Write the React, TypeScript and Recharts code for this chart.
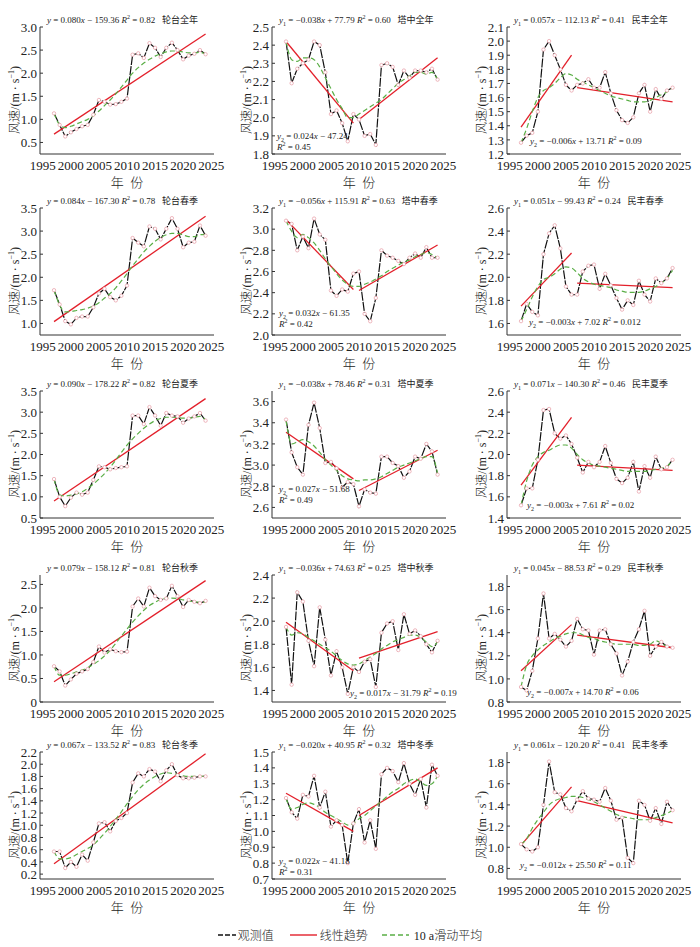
import React from 'react';
import { LineChart, Line, XAxis, YAxis } from 'recharts';

// ---------- data ----------
const years = [1997, 1998, 1999, 2000, 2001, 2002, 2003, 2004, 2005, 2006, 2007, 2008, 2009, 2010,
  2011, 2012, 2013, 2014, 2015, 2016, 2017, 2018, 2019, 2020, 2021, 2022, 2023, 2024];
const xTicks = [1995, 2000, 2005, 2010, 2015, 2020, 2025];

const luntaiTrendYears = [[1997, 2024]];
const tazhongTrendYears = [[1997, 2009], [2010, 2024]];
const minfengTrendYears = [[1997, 2006], [2007, 2024]];

// 轮台全年
const ltAnnualObs = [1.13, 0.88, 0.63, 0.72, 0.79, 0.85, 0.88, 1.1, 1.42, 1.38, 1.32, 1.33, 1.38, 1.45, 2.4, 2.43, 2.33, 2.65, 2.55, 2.35, 2.55, 2.66, 2.5, 2.3, 2.38, 2.42, 2.5, 2.41];
const ltAnnualMA = [1.13, 0.88, 0.82, 0.85, 0.9, 0.95, 1.0, 1.08, 1.18, 1.3, 1.42, 1.55, 1.7, 1.85, 2.0, 2.12, 2.22, 2.3, 2.37, 2.42, 2.46, 2.48, 2.48, 2.46, 2.44, 2.44, 2.45, 2.42];
const ltAnnualTrend = [0.68, 2.85];
// 塔中全年
const tzAnnualObs = [2.42, 2.19, 2.27, 2.3, 2.32, 2.42, 2.4, 2.25, 2.02, 2.04, 1.97, 1.87, 2.02, 1.99, 1.9, 1.91, 1.85, 2.29, 2.3, 2.28, 2.18, 2.26, 2.22, 2.26, 2.26, 2.25, 2.27, 2.21];
const tzAnnualMA = [2.42, 2.32, 2.31, 2.33, 2.33, 2.32, 2.28, 2.22, 2.16, 2.1, 2.05, 2.0, 2.0, 2.02, 2.04, 2.06, 2.08, 2.1, 2.13, 2.16, 2.19, 2.21, 2.23, 2.25, 2.25, 2.24, 2.25, 2.21];
const tzAnnualTrend = [2.42, 1.97, 1.99, 2.33];
// 民丰全年
const mfAnnualObs = [1.28, 1.33, 1.35, 1.5, 1.94, 2.0, 1.9, 1.8, 1.69, 1.65, 1.69, 1.7, 1.73, 1.67, 1.67, 1.78, 1.63, 1.51, 1.44, 1.42, 1.46, 1.63, 1.69, 1.5, 1.66, 1.59, 1.65, 1.67];
const mfAnnualMA = [1.28, 1.38, 1.5, 1.6, 1.65, 1.67, 1.7, 1.74, 1.77, 1.76, 1.73, 1.71, 1.69, 1.67, 1.65, 1.63, 1.61, 1.6, 1.59, 1.58, 1.57, 1.57, 1.57, 1.58, 1.6, 1.62, 1.64, 1.67];
const mfAnnualTrend = [1.39, 1.9, 1.67, 1.57];

// 轮台春季
const ltSpringObs = [1.72, 1.41, 1.05, 0.98, 1.12, 1.15, 1.15, 1.35, 1.65, 1.75, 1.57, 1.5, 1.6, 1.82, 2.85, 2.75, 2.67, 3.1, 3.05, 2.82, 3.05, 3.28, 3.05, 2.65, 2.75, 2.77, 3.12, 2.9];
const ltSpringMA = [1.72, 1.4, 1.25, 1.26, 1.28, 1.3, 1.33, 1.38, 1.45, 1.55, 1.65, 1.77, 1.92, 2.08, 2.25, 2.4, 2.55, 2.67, 2.78, 2.86, 2.92, 2.95, 2.95, 2.92, 2.88, 2.88, 2.92, 2.93];
const ltSpringTrend = [1.04, 3.32];
// 塔中春季
const tzSpringObs = [3.08, 3.05, 2.8, 2.93, 2.82, 3.1, 2.95, 2.9, 2.42, 2.37, 2.43, 2.41, 2.58, 2.6, 2.2, 2.13, 2.35, 2.8, 2.75, 2.73, 2.7, 2.67, 2.73, 2.77, 2.73, 2.83, 2.73, 2.73];
const tzSpringMA = [3.08, 2.98, 2.92, 2.95, 2.92, 2.87, 2.8, 2.72, 2.65, 2.58, 2.52, 2.48, 2.46, 2.46, 2.48, 2.5, 2.53, 2.56, 2.6, 2.63, 2.66, 2.69, 2.71, 2.74, 2.76, 2.78, 2.76, 2.73];
const tzSpringTrend = [3.09, 2.43, 2.42, 2.85];
// 民丰春季
const mfSpringObs = [1.62, 1.77, 1.7, 1.67, 2.2, 2.38, 2.45, 2.25, 1.92, 1.85, 1.85, 2.05, 2.1, 2.11, 1.9, 2.03, 1.93, 1.82, 1.72, 1.8, 1.76, 1.97, 1.85, 1.79, 1.99, 1.95, 1.99, 2.08];
const mfSpringMA = [1.62, 1.72, 1.83, 1.92, 1.98, 2.0, 2.03, 2.07, 2.09, 2.08, 2.04, 1.99, 1.96, 1.94, 1.93, 1.92, 1.91, 1.89, 1.88, 1.87, 1.87, 1.87, 1.88, 1.9, 1.92, 1.95, 1.99, 2.06];
const mfSpringTrend = [1.75, 2.21, 1.95, 1.91];

// 轮台夏季
const ltSummerObs = [1.42, 1.0, 0.78, 0.98, 1.1, 1.05, 1.1, 1.4, 1.72, 1.7, 1.65, 1.68, 1.7, 1.72, 2.92, 2.92, 2.72, 3.12, 2.92, 2.68, 2.98, 2.92, 2.9, 2.75, 2.85, 2.9, 2.98, 2.8];
const ltSummerMA = [1.42, 1.05, 1.02, 1.04, 1.07, 1.12, 1.2, 1.3, 1.42, 1.55, 1.7, 1.87, 2.05, 2.22, 2.37, 2.5, 2.62, 2.72, 2.8, 2.85, 2.88, 2.88, 2.87, 2.86, 2.86, 2.88, 2.9, 2.82];
const ltSummerTrend = [0.9, 3.32];
// 塔中夏季
const tzSummerObs = [3.43, 3.12, 2.98, 2.91, 3.38, 3.59, 3.35, 3.02, 3.03, 2.97, 2.79, 2.84, 2.82, 2.61, 2.77, 2.74, 2.73, 3.08, 3.08, 3.02, 2.99, 2.88, 2.94, 3.08, 3.06, 3.2, 3.13, 2.91];
const tzSummerMA = [3.42, 3.2, 3.22, 3.24, 3.22, 3.18, 3.12, 3.05, 3.0, 2.95, 2.9, 2.87, 2.86, 2.85, 2.86, 2.86, 2.87, 2.89, 2.92, 2.95, 2.98, 3.0, 3.02, 3.04, 3.06, 3.08, 3.08, 2.92];
const tzSummerTrend = [3.31, 2.87, 2.76, 3.14];
// 民丰夏季
const mfSummerObs = [1.52, 1.68, 1.68, 1.95, 2.42, 2.43, 2.2, 2.15, 2.18, 2.1, 1.97, 1.83, 1.93, 1.88, 1.93, 2.08, 1.92, 1.77, 1.73, 1.78, 1.93, 1.65, 1.89, 1.78, 1.98, 1.86, 1.88, 1.95];
const mfSummerMA = [1.52, 1.75, 1.9, 1.98, 2.02, 2.04, 2.07, 2.09, 2.09, 2.06, 2.0, 1.95, 1.92, 1.9, 1.89, 1.88, 1.87, 1.86, 1.85, 1.84, 1.84, 1.84, 1.84, 1.85, 1.86, 1.87, 1.89, 1.94];
const mfSummerTrend = [1.71, 2.35, 1.9, 1.85];

// 轮台秋季
const ltAutumnObs = [0.76, 0.65, 0.35, 0.48, 0.6, 0.65, 0.7, 0.85, 1.18, 1.05, 1.12, 1.08, 1.06, 1.07, 2.03, 2.2, 2.03, 2.43, 2.25, 2.17, 2.2, 2.47, 2.25, 2.02, 2.17, 2.13, 2.1, 2.15];
const ltAutumnMA = [0.76, 0.57, 0.57, 0.6, 0.64, 0.68, 0.73, 0.8, 0.88, 0.98, 1.1, 1.25, 1.4, 1.55, 1.7, 1.83, 1.95, 2.05, 2.12, 2.18, 2.21, 2.21, 2.2, 2.17, 2.15, 2.13, 2.12, 2.13];
const ltAutumnTrend = [0.43, 2.58];
// 塔中秋季
const tzAutumnObs = [1.95, 1.45, 2.25, 2.17, 1.83, 1.61, 2.12, 1.84, 1.53, 1.74, 1.6, 1.37, 1.6, 1.56, 1.65, 1.67, 1.43, 1.9, 1.98, 2.0, 1.75, 2.06, 1.89, 1.92, 1.87, 1.8, 1.73, 1.83];
const tzAutumnMA = [1.95, 1.88, 1.9, 1.89, 1.86, 1.83, 1.8, 1.77, 1.74, 1.7, 1.66, 1.63, 1.62, 1.63, 1.66, 1.69, 1.72, 1.76, 1.79, 1.82, 1.84, 1.86, 1.88, 1.88, 1.86, 1.82, 1.78, 1.82];
const tzAutumnTrend = [1.99, 1.57, 1.68, 1.91];
// 民丰秋季
const mfAutumnObs = [0.93, 0.9, 1.07, 1.35, 1.74, 1.35, 1.39, 1.34, 1.28, 1.33, 1.52, 1.43, 1.42, 1.21, 1.42, 1.43, 1.3, 1.22, 1.03, 1.15, 1.32, 1.43, 1.59, 1.2, 1.28, 1.32, 1.28, 1.27];
const mfAutumnMA = [0.93, 1.12, 1.2, 1.25, 1.29, 1.32, 1.35, 1.37, 1.39, 1.4, 1.4, 1.38, 1.36, 1.35, 1.33, 1.32, 1.31, 1.3, 1.3, 1.3, 1.3, 1.29, 1.29, 1.3, 1.33, 1.31, 1.28, 1.27];
const mfAutumnTrend = [1.07, 1.47, 1.38, 1.27];

// 轮台冬季
const ltWinterObs = [0.57, 0.57, 0.3, 0.4, 0.32, 0.52, 0.42, 0.72, 1.03, 1.05, 0.9, 1.07, 1.12, 1.2, 1.7, 1.85, 1.8, 1.92, 1.88, 1.72, 1.9, 2.0, 1.82, 1.77, 1.77, 1.78, 1.8, 1.8];
const ltWinterMA = [0.57, 0.45, 0.45, 0.47, 0.52, 0.57, 0.62, 0.68, 0.77, 0.87, 0.98, 1.1, 1.22, 1.35, 1.47, 1.58, 1.67, 1.74, 1.8, 1.84, 1.86, 1.85, 1.83, 1.81, 1.8, 1.8, 1.8, 1.81];
const ltWinterTrend = [0.37, 2.17];
// 塔中冬季
const tzWinterObs = [1.21, 1.12, 1.08, 1.23, 1.22, 1.35, 1.15, 1.25, 1.03, 1.07, 1.04, 0.8, 1.05, 1.14, 0.93, 1.07, 0.89, 1.36, 1.4, 1.38, 1.31, 1.43, 1.3, 1.23, 1.33, 1.15, 1.42, 1.35];
const tzWinterMA = [1.21, 1.14, 1.15, 1.17, 1.18, 1.17, 1.15, 1.12, 1.1, 1.08, 1.06, 1.04, 1.05, 1.08, 1.1, 1.13, 1.16, 1.19, 1.22, 1.25, 1.27, 1.3, 1.32, 1.33, 1.31, 1.29, 1.3, 1.35];
const tzWinterTrend = [1.24, 1.0, 1.1, 1.4];
// 民丰冬季
const mfWinterObs = [1.03, 0.98, 0.96, 1.0, 1.4, 1.81, 1.52, 1.5, 1.37, 1.34, 1.45, 1.53, 1.46, 1.45, 1.43, 1.56, 1.44, 1.26, 1.28, 0.9, 0.85, 1.44, 1.4, 1.25, 1.37, 1.22, 1.43, 1.35];
const mfWinterMA = [1.03, 1.08, 1.18, 1.26, 1.33, 1.4, 1.44, 1.46, 1.47, 1.48, 1.48, 1.47, 1.45, 1.43, 1.4, 1.37, 1.34, 1.31, 1.29, 1.28, 1.27, 1.26, 1.26, 1.26, 1.28, 1.3, 1.32, 1.35];
const mfWinterTrend = [1.02, 1.57, 1.44, 1.23];

// y-axis tick lists
const ltAnnualTicks = [0.5, 1.0, 1.5, 2.0, 2.5, 3.0];
const tzAnnualTicks = [1.8, 1.9, 2.0, 2.1, 2.2, 2.3, 2.4, 2.5];
const mfAnnualTicks = [1.2, 1.3, 1.4, 1.5, 1.6, 1.7, 1.8, 1.9, 2.0, 2.1];
const ltSpringTicks = [1.0, 1.5, 2.0, 2.5, 3.0, 3.5];
const tzSpringTicks = [2.0, 2.2, 2.4, 2.6, 2.8, 3.0, 3.2];
const mfSpringTicks = [1.6, 1.8, 2.0, 2.2, 2.4, 2.6];
const ltSummerTicks = [0.5, 1.0, 1.5, 2.0, 2.5, 3.0, 3.5];
const tzSummerTicks = [2.6, 2.8, 3.0, 3.2, 3.4, 3.6];
const mfSummerTicks = [1.4, 1.6, 1.8, 2.0, 2.2, 2.4, 2.6];
const ltAutumnTicks = [0, 0.5, 1.0, 1.5, 2.0, 2.5];
const tzAutumnTicks = [1.4, 1.6, 1.8, 2.0, 2.2, 2.4];
const mfAutumnTicks = [0.8, 1.0, 1.2, 1.4, 1.6, 1.8];
const ltWinterTicks = [0.2, 0.4, 0.6, 0.8, 1.0, 1.2, 1.4, 1.6, 1.8, 2.0, 2.2];
const tzWinterTicks = [0.7, 0.8, 0.9, 1.0, 1.1, 1.2, 1.3, 1.4, 1.5];
const mfWinterTicks = [0.8, 1.0, 1.2, 1.4, 1.6, 1.8];

// ---------- layout / config ----------
const colLeft = [0, 232, 467];
const rowTop = [6, 187, 370, 554, 731];
const CW = 233;
const CH = 185;
const PLOT_TOP = 21;
const PLOT_H = 127;

type Eq = { sub: string; body: string; r2: string; name?: string };
type Note = { sub: string; body: string; r2: string; x: number; yf: number; split: boolean };

const panels: {
  obs: number[]; ma: number[]; trend: number[]; segYears: number[][]; domain: [number, number];
  ticks: number[]; eq: Eq; note?: Note;
}[] = [
  { obs: ltAnnualObs, ma: ltAnnualMA, trend: ltAnnualTrend, segYears: luntaiTrendYears, domain: [0.25, 3.0], ticks: ltAnnualTicks,
    eq: { sub: '', body: '0.080x − 159.36', r2: '0.82', name: '轮台全年' } },
  { obs: tzAnnualObs, ma: tzAnnualMA, trend: tzAnnualTrend, segYears: tazhongTrendYears, domain: [1.8, 2.5], ticks: tzAnnualTicks,
    eq: { sub: '1', body: '−0.038x + 77.79', r2: '0.60', name: '塔中全年' },
    note: { sub: '2', body: '0.024x − 47.24', r2: '0.45', x: 45, yf: 0.86, split: true } },
  { obs: mfAnnualObs, ma: mfAnnualMA, trend: mfAnnualTrend, segYears: minfengTrendYears, domain: [1.2, 2.1], ticks: mfAnnualTicks,
    eq: { sub: '1', body: '0.057x − 112.13', r2: '0.41', name: '民丰全年' },
    note: { sub: '2', body: '−0.006x + 13.71', r2: '0.09', x: 63, yf: 0.9, split: false } },

  { obs: ltSpringObs, ma: ltSpringMA, trend: ltSpringTrend, segYears: luntaiTrendYears, domain: [0.75, 3.5], ticks: ltSpringTicks,
    eq: { sub: '', body: '0.084x − 167.30', r2: '0.78', name: '轮台春季' } },
  { obs: tzSpringObs, ma: tzSpringMA, trend: tzSpringTrend, segYears: tazhongTrendYears, domain: [2.0, 3.2], ticks: tzSpringTicks,
    eq: { sub: '1', body: '−0.056x + 115.91', r2: '0.63', name: '塔中春季' },
    note: { sub: '2', body: '0.032x − 61.35', r2: '0.42', x: 47, yf: 0.83, split: true } },
  { obs: mfSpringObs, ma: mfSpringMA, trend: mfSpringTrend, segYears: minfengTrendYears, domain: [1.5, 2.6], ticks: mfSpringTicks,
    eq: { sub: '1', body: '0.051x − 99.43', r2: '0.24', name: '民丰春季' },
    note: { sub: '2', body: '−0.003x + 7.02', r2: '0.012', x: 62, yf: 0.9, split: false } },

  { obs: ltSummerObs, ma: ltSummerMA, trend: ltSummerTrend, segYears: luntaiTrendYears, domain: [0.5, 3.5], ticks: ltSummerTicks,
    eq: { sub: '', body: '0.090x − 178.22', r2: '0.82', name: '轮台夏季' } },
  { obs: tzSummerObs, ma: tzSummerMA, trend: tzSummerTrend, segYears: tazhongTrendYears, domain: [2.5, 3.7], ticks: tzSummerTicks,
    eq: { sub: '1', body: '−0.038x + 78.46', r2: '0.31', name: '塔中夏季' },
    note: { sub: '2', body: '0.027x − 51.68', r2: '0.49', x: 47, yf: 0.77, split: true } },
  { obs: mfSummerObs, ma: mfSummerMA, trend: mfSummerTrend, segYears: minfengTrendYears, domain: [1.4, 2.6], ticks: mfSummerTicks,
    eq: { sub: '1', body: '0.071x − 140.30', r2: '0.46', name: '民丰夏季' },
    note: { sub: '2', body: '−0.003x + 7.61', r2: '0.02', x: 60, yf: 0.9, split: false } },

  { obs: ltAutumnObs, ma: ltAutumnMA, trend: ltAutumnTrend, segYears: luntaiTrendYears, domain: [0, 2.7], ticks: ltAutumnTicks,
    eq: { sub: '', body: '0.079x − 158.12', r2: '0.81', name: '轮台秋季' } },
  { obs: tzAutumnObs, ma: tzAutumnMA, trend: tzAutumnTrend, segYears: tazhongTrendYears, domain: [1.3, 2.4], ticks: tzAutumnTicks,
    eq: { sub: '1', body: '−0.036x + 74.63', r2: '0.25', name: '塔中秋季' },
    note: { sub: '2', body: '0.017x − 31.79', r2: '0.19', x: 118, yf: 0.93, split: false } },
  { obs: mfAutumnObs, ma: mfAutumnMA, trend: mfAutumnTrend, segYears: minfengTrendYears, domain: [0.8, 1.9], ticks: mfAutumnTicks,
    eq: { sub: '1', body: '0.045x − 88.53', r2: '0.29', name: '民丰秋季' },
    note: { sub: '2', body: '−0.007x + 14.70', r2: '0.06', x: 60, yf: 0.92, split: false } },

  { obs: ltWinterObs, ma: ltWinterMA, trend: ltWinterTrend, segYears: luntaiTrendYears, domain: [0.12, 2.2], ticks: ltWinterTicks,
    eq: { sub: '', body: '0.067x − 133.52', r2: '0.83', name: '轮台冬季' } },
  { obs: tzWinterObs, ma: tzWinterMA, trend: tzWinterTrend, segYears: tazhongTrendYears, domain: [0.7, 1.5], ticks: tzWinterTicks,
    eq: { sub: '1', body: '−0.020x + 40.95', r2: '0.32', name: '塔中冬季' },
    note: { sub: '2', body: '0.022x − 41.18', r2: '0.31', x: 47, yf: 0.855, split: true } },
  { obs: mfWinterObs, ma: mfWinterMA, trend: mfWinterTrend, segYears: minfengTrendYears, domain: [0.7, 1.9], ticks: mfWinterTicks,
    eq: { sub: '1', body: '0.061x − 120.20', r2: '0.41', name: '民丰冬季' },
    note: { sub: '2', body: '−0.012x + 25.50', r2: '0.11', x: 53, yf: 0.89, split: false } },
];

const SERIF = "'Liberation Serif', 'Times New Roman', 'Noto Sans CJK SC', serif";
const CJK = "'Liberation Serif', 'Noto Sans CJK SC', serif";

function Body({ body }: { body: string }) {
  const [a, b] = body.split('x');
  return (<>{a}<i>x</i>{b}</>);
}

function YVar({ sub }: { sub: string }) {
  return (<><i>y</i>{sub ? <sub style={{ fontSize: 6, verticalAlign: 'sub', lineHeight: 0 }}>{sub}</sub> : null}</>);
}

function R2({ r2 }: { r2: string }) {
  return (<><i>R</i><sup style={{ fontSize: 6, verticalAlign: 'super', lineHeight: 0 }}>2</sup> = {r2}</>);
}

function Panel({ idx }: { idx: number }) {
  const p = panels[idx];
  const row = Math.floor(idx / 3);
  const col = idx % 3;
  const obs = years.map((y, i) => ({ year: y, v: p.obs[i] }));
  const ma = years.map((y, i) => ({ year: y, v: p.ma[i] }));
  const segs = p.segYears.map((ys, k) => ys.map((y, j) => ({ year: y, v: p.trend[k * 2 + j] })));
  const fmt = (v: number) => (v === 0 ? '0' : v.toFixed(1));
  return (
    <div style={{ position: 'absolute', left: colLeft[col], top: rowTop[row], width: CW, height: CH }}>
      <LineChart width={CW} height={CH} margin={{ top: PLOT_TOP, right: 19, bottom: 4, left: 0 }}>
        <XAxis type="number" dataKey="year" domain={[1994.5, 2025.5]} ticks={xTicks} allowDataOverflow interval={0}
          height={33} tickLine={false} tickSize={4} tickMargin={3}
          axisLine={{ stroke: '#333', strokeWidth: 1 }}
          tick={{ fontSize: 13, fill: '#222', fontFamily: SERIF }} />
        <YAxis type="number" domain={p.domain} ticks={p.ticks} allowDataOverflow width={40} interval={0}
          tickFormatter={fmt} tickSize={-3} tickMargin={6}
          tickLine={{ stroke: '#333' }} axisLine={{ stroke: '#333', strokeWidth: 1 }}
          tick={{ fontSize: 13, fill: '#222', fontFamily: SERIF }} />
        <Line data={obs} dataKey="v" name="观测值" type="linear" stroke="#111" strokeWidth={1.2}
          strokeDasharray="9 1.2"
          dot={{ r: 1.7, fill: '#fff', stroke: '#e79aa4', strokeWidth: 0.7, strokeDasharray: '' }}
          isAnimationActive={false} />
        {segs.map((s, k) => (
          <Line key={k} data={s} dataKey="v" name={'线性趋势' + k} type="linear" stroke="#e3202b" strokeWidth={1.3}
            dot={false} isAnimationActive={false} />
        ))}
        <Line data={ma} dataKey="v" name="10 a滑动平均" type="monotone" stroke="#5aae46" strokeWidth={1.2}
          strokeDasharray="5 3" dot={false} isAnimationActive={false} />
      </LineChart>
      {/* equation above plot */}
      <div style={{ position: 'absolute', left: 47, top: 9, fontSize: 9, lineHeight: '10px', fontFamily: CJK, color: '#222', whiteSpace: 'nowrap' }}>
        <YVar sub={p.eq.sub} /> = <Body body={p.eq.body} /> <R2 r2={p.eq.r2} />&nbsp;&nbsp;&nbsp;{p.eq.name}
      </div>
      {p.note ? (
        p.note.split ? (
          <div style={{ position: 'absolute', left: p.note.x, top: PLOT_TOP + p.note.yf * PLOT_H - 5, fontSize: 9, lineHeight: '11px', fontFamily: SERIF, color: '#222', whiteSpace: 'nowrap' }}>
            <div><YVar sub={p.note.sub} /> = <Body body={p.note.body} /></div>
            <div><R2 r2={p.note.r2} /></div>
          </div>
        ) : (
          <div style={{ position: 'absolute', left: p.note.x, top: PLOT_TOP + p.note.yf * PLOT_H - 5, fontSize: 9, lineHeight: '10px', fontFamily: SERIF, color: '#222', whiteSpace: 'nowrap' }}>
            <YVar sub={p.note.sub} /> = <Body body={p.note.body} /> <R2 r2={p.note.r2} />
          </div>
        )
      ) : null}
      {/* y-axis title */}
      <div style={{ position: 'absolute', left: 14, top: 94, width: 0, height: 0 }}>
        <div style={{ position: 'absolute', transform: 'translate(-50%, -50%) rotate(-90deg)', fontSize: 12, fontFamily: CJK, fontWeight: 300, color: '#222', whiteSpace: 'nowrap' }}>
          风速/(m · s<sup style={{ fontSize: 8, verticalAlign: 'super', lineHeight: 0 }}>−1</sup>)
        </div>
      </div>
      {/* x-axis title */}
      <div style={{ position: 'absolute', left: 40, width: 174, top: 170, lineHeight: '13px', textAlign: 'center', fontSize: 13, fontFamily: CJK, fontWeight: 300, color: '#222', whiteSpace: 'nowrap' }}>
        年&nbsp;&nbsp;份
      </div>
    </div>
  );
}

function Legend() {
  return (
    <div style={{ position: 'absolute', left: 0, width: 700, top: 926, display: 'flex', justifyContent: 'center', alignItems: 'center', fontSize: 12, fontFamily: CJK, fontWeight: 300, color: '#222' }}>
      <svg width={18} height={10} style={{ marginRight: 2 }}><line x1={0} y1={5} x2={18} y2={5} stroke="#111" strokeWidth={1.4} strokeDasharray="5 2" /></svg>
      <span style={{ marginRight: 16 }}>观测值</span>
      <svg width={27} height={10} style={{ marginRight: 3 }}><line x1={0} y1={5} x2={27} y2={5} stroke="#e3202b" strokeWidth={1.4} /></svg>
      <span style={{ marginRight: 14 }}>线性趋势</span>
      <svg width={27} height={10} style={{ marginRight: 5 }}><line x1={0} y1={5} x2={27} y2={5} stroke="#5aae46" strokeWidth={1.4} strokeDasharray="5 3" /></svg>
      <span>10 a滑动平均</span>
    </div>
  );
}

export default function App() {
  return (
    <div style={{ position: 'absolute', left: 0, top: 0, width: 700, height: 947, background: '#fff', overflow: 'hidden' }}>
      {panels.map((_, i) => <Panel key={i} idx={i} />)}
      <Legend />
    </div>
  );
}
